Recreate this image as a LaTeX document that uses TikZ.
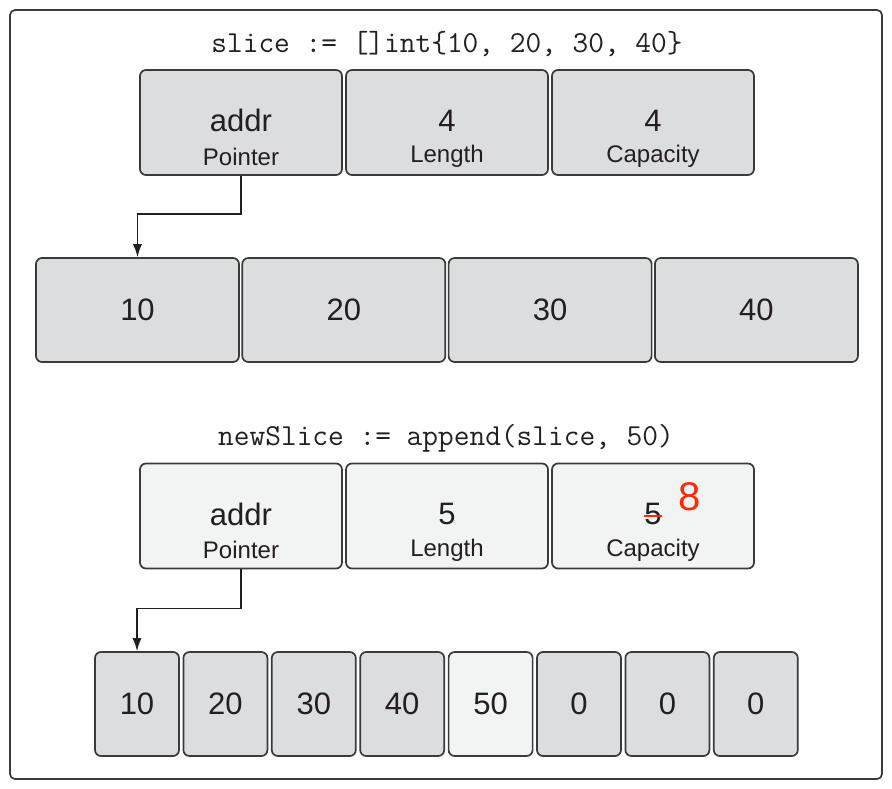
\documentclass[tikz,border=0pt]{standalone}
\usepackage{fontspec}
\setmainfont{Liberation Sans}
\usepackage{xcolor}
\usetikzlibrary{positioning, arrows.meta}

\definecolor{boxline}{HTML}{3A3A3A}
\definecolor{oldfill}{HTML}{DCDDDF}
\definecolor{newfill}{HTML}{F2F3F3}
\definecolor{ink}{HTML}{231F20}
\definecolor{redmark}{HTML}{FF2A00}

\begin{document}
\begin{tikzpicture}[x=1pt, y=-1pt, >={Latex[length=13pt,width=9pt]},
    box/.style={draw=boxline, line width=1.7pt, rounded corners=6pt, inner sep=0pt},
    hdr/.style={box, minimum width=202pt, minimum height=105pt},
    cell/.style={box, minimum width=203pt, minimum height=104pt, text=ink,
        font=\fontsize{31}{31}\selectfont},
    small cell/.style={cell, minimum width=84pt},
    old/.style={fill=oldfill},
    new/.style={fill=newfill},
    val/.style={text=ink, inner sep=0pt, font=\fontsize{31}{31}\selectfont},
    lab/.style={text=ink, inner sep=0pt, font=\fontsize{24}{24}\selectfont},
    code/.style={text=ink, inner sep=0pt, font=\ttfamily\fontsize{30.5}{30.5}\selectfont},
    link/.style={->, draw=ink, line width=1.3pt}]
    \useasboundingbox (0,0) rectangle (892,788);
    % 1. Khung ngoài
    \draw[draw=boxline, line width=1.7pt, rounded corners=5pt] (10,10) rectangle (882,779);

    % 2. slice ban đầu
    \node[code] (t1) at (447,44) {slice := []int\{10, 20, 30, 40\}};
    \foreach \v/\l [count=\i] in {addr/Pointer, 4/Length, 4/Capacity} {
        \node[hdr, old] (p\i) at ({241+206*(\i-1)},122.5) {};
        \node[val] (p\i v) at ([yshift=2pt]p\i.center) {\v};
        \node[lab] (p\i l) at ([yshift=-34pt]p\i.center) {\l};
    }
    \foreach \v [count=\i] in {10, 20, 30, 40} {
        \node[cell, old] (a\i) at ({137.5+206.3*(\i-1)},310) {\v};
    }
    \draw[link] (p1.south) -- ++(0,38) -| (a1.north);

    % 3. newSlice sau append
    \node[code] (t2) at (446,438) {newSlice := append(slice, 50)};
    \foreach \v/\l [count=\i] in {addr/Pointer, 5/Length, 5/Capacity} {
        \node[hdr, new] (q\i) at ({241+206*(\i-1)},516) {};
        \node[val] (q\i v) at ([yshift=2pt]q\i.center) {\v};
        \node[lab] (q\i l) at ([yshift=-34pt]q\i.center) {\l};
    }
    \draw[redmark, line width=2pt] ([xshift=-9pt,yshift=-2pt]q3v.center) -- ([xshift=9pt,yshift=-2pt]q3v.center);
    \node[val, text=redmark, font=\fontsize{40}{40}\selectfont,
        above right=-8pt and 16pt of q3v] (cap) {8};
    \foreach \v/\s [count=\i] in {10/old, 20/old, 30/old, 40/old, 50/new, 0/old, 0/old, 0/old} {
        \node[small cell, \s] (b\i) at ({137+88.4*(\i-1)},704) {\v};
    }
    \draw[link] (q1.south) -- ++(0,39) -| (b1.north);
\end{tikzpicture}
\end{document}
